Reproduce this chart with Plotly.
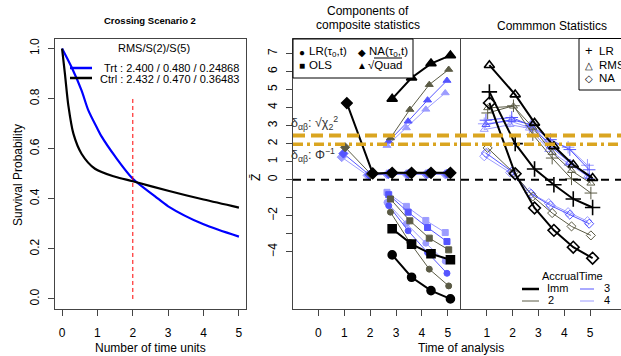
import plotly.graph_objects as go

W, H = 621, 356
FONT = "Liberation Sans, Arial, sans-serif"

# ---------------- data: left panel (survival curves) ----------------
trt_t = [0, 0.27, 0.55, 0.74, 1.0, 1.12, 1.5, 2.0, 2.63, 3.0, 4.0, 5.0]
trt_s = [1.0, 0.925, 0.833, 0.754, 0.68, 0.648, 0.569, 0.48, 0.41, 0.37, 0.298, 0.249]
ctrl_t = [0, 0.08, 0.18, 0.32, 0.55, 0.93, 1.5, 2.0, 3.0, 4.0, 5.0]
ctrl_s = [1.0, 0.90, 0.77, 0.66, 0.58, 0.52, 0.488, 0.47, 0.432, 0.397, 0.365]
legend_title = "RMS/S(2)/S(5)"
legend_trt = "Trt : 2.400 / 0.480 / 0.24868"
legend_ctrl = "Ctrl : 2.432 / 0.470 / 0.36483"

# ---------------- data: analysis times / groups ----------------
analysis_times = [1, 2, 2.75, 3.5, 4.25, 5]
groups = ["Imm", "2", "3", "4"]
group_offsets = [0.1, 0.033, -0.033, -0.1]
group_colors = ["#000000", "#5b5b45", "#5555ff", "#9c9cff"]

# middle panel: components of composite statistics
na_tau = {   # NA(tau0,t) at all 6 times
    "Imm": [4.25, 0.35, 0.38, 0.38, 0.38, 0.38],
    "2":   [1.80, 0.30, 0.35, 0.35, 0.35, 0.35],
    "3":   [1.45, 0.27, 0.32, 0.32, 0.33, 0.33],
    "4":   [1.25, 0.24, 0.30, 0.30, 0.30, 0.30],
}
lr_tau = {   # LR(tau0,t) at last 4 times
    "Imm": [-4.17, -5.41, -6.15, -6.61],
    "2":   [-1.80, -3.48, -4.96, -5.89],
    "3":   [-1.44, -2.83, -4.04, -5.19],
    "4":   [-1.26, -2.44, -3.52, -4.52],
}
ols = {
    "Imm": [-2.72, -3.57, -4.11, -4.44],
    "2":   [-1.07, -2.28, -3.24, -3.89],
    "3":   [-0.83, -1.80, -2.65, -3.43],
    "4":   [-0.70, -1.48, -2.26, -2.93],
}
sqrt_quad = {
    "Imm": [4.48, 5.65, 6.44, 6.89],
    "2":   [2.31, 3.89, 5.27, 6.11],
    "3":   [2.13, 3.24, 4.41, 5.50],
    "4":   [1.89, 2.87, 3.90, 4.81],
}

# right panel: common statistics at all 6 times
lr_common = {
    "Imm": [4.87, 2.00, 0.59, -0.28, -1.07, -1.54],
    "2":   [3.70, 4.10, 2.50, 1.20, 0.05, -0.74],
    "3":   [3.30, 3.45, 3.00, 2.22, 1.67, 0.55],
    "4":   [3.10, 3.25, 2.90, 2.10, 1.80, 0.80],
}
rms_common = {
    "Imm": [6.35, 4.72, 3.15, 1.85, 0.83, 0.09],
    "2":   [3.98, 4.07, 2.90, 1.50, 0.50, -0.20],
    "3":   [3.05, 3.33, 3.05, 1.85, 0.95, 0.15],
    "4":   [2.78, 3.05, 2.85, 1.66, 0.90, 0.20],
}
na_common = {
    "Imm": [4.26, 0.33, -1.57, -2.81, -3.74, -4.35],
    "2":   [1.76, 0.40, -0.93, -1.85, -2.59, -3.09],
    "3":   [1.48, 0.45, -0.78, -1.43, -1.94, -2.44],
    "4":   [1.30, 0.40, -0.70, -1.30, -1.80, -2.30],
}

crit_chi = 2.448   # sqrt(chi2_2 quantile)
crit_norm = 1.96   # Phi^-1

# ---------------- figure ----------------
fig = go.Figure()

fig.add_trace(go.Scatter(x=trt_t, y=trt_s, mode="lines", line=dict(color="#0000ff", width=2.2, shape="spline", smoothing=0.8),
                         xaxis="x", yaxis="y", showlegend=False))
fig.add_trace(go.Scatter(x=ctrl_t, y=ctrl_s, mode="lines", line=dict(color="#000000", width=2.2, shape="spline", smoothing=0.8),
                         xaxis="x", yaxis="y", showlegend=False))


def series(xs, ys, color, symbol, size, lw, ax, ay):
    fig.add_trace(go.Scatter(
        x=xs, y=ys, mode="lines+markers",
        line=dict(color=color, width=lw),
        marker=dict(color=color, symbol=symbol, size=size,
                    line=dict(color=color, width=(1.6 if lw > 1.5 else 1.0))),
        xaxis=ax, yaxis=ay, showlegend=False, cliponaxis=True))


# middle panel
for g in groups[::-1]:
    gi = groups.index(g)
    col = group_colors[gi]
    off = group_offsets[gi]
    big = g == "Imm"
    lw = 2 if big else 1
    xs_all = [t + off for t in analysis_times]
    xs_late = xs_all[2:]
    series(xs_all, na_tau[g], col, "diamond", 8 if big else 7, lw, "x2", "y2")
    series(xs_late, lr_tau[g], col, "circle", 8 if big else 6, lw, "x2", "y2")
    series(xs_late, ols[g], col, "square", 8 if big else 6, lw, "x2", "y2")
    series(xs_late, sqrt_quad[g], col, "triangle-up", 9 if big else 7, lw, "x2", "y2")

# right panel
for g in groups[::-1]:
    gi = groups.index(g)
    col = group_colors[gi]
    off = group_offsets[gi]
    big = g == "Imm"
    lw = 2 if big else 1
    xs_all = [t + off for t in analysis_times]
    series(xs_all, na_common[g], col, "diamond-open", 9 if big else 7, lw, "x3", "y3")
    series(xs_all, rms_common[g], col, "triangle-up-open", 9 if big else 7, lw, "x3", "y3")
    series(xs_all, lr_common[g], col, "cross-thin-open", 11 if big else 9, lw, "x3", "y3")


def px(x):
    return x / W


def py(y):
    return 1 - y / H


tickfont = dict(family=FONT, size=12, color="#000")
boxcol = "#444"
ydom = [py(309), py(38.5)]

fig.update_layout(
    width=W, height=H, margin=dict(l=0, r=0, t=0, b=0),
    paper_bgcolor="white", plot_bgcolor="white",
    font=dict(family=FONT, color="#000"),
    xaxis=dict(domain=[px(55), px(246)], range=[-0.2, 5.2], tickvals=[0, 1, 2, 3, 4, 5],
               ticks="outside", ticklen=6, tickcolor=boxcol, showgrid=False, zeroline=False,
               showline=True, mirror=True, linecolor=boxcol, linewidth=1.2,
               tickfont=tickfont, ticklabelstandoff=6),
    yaxis=dict(domain=ydom, range=[-0.04, 1.04], tickvals=[0, 0.2, 0.4, 0.6, 0.8, 1.0],
               ticktext=["0.0", "0.2", "0.4", "0.6", "0.8", "1.0"], tickangle=-90,
               ticks="outside", ticklen=6, tickcolor=boxcol, showgrid=False, zeroline=False,
               showline=True, mirror=True, linecolor=boxcol, linewidth=1.2,
               tickfont=tickfont, ticklabelstandoff=4),
    xaxis2=dict(domain=[px(293), px(460)], range=[-0.98, 5.47], tickvals=[0, 1, 2, 3, 4, 5],
                ticks="outside", ticklen=6, tickcolor=boxcol, showgrid=False, zeroline=False,
                showline=True, mirror=True, linecolor=boxcol, linewidth=1.2,
                tickfont=tickfont, ticklabelstandoff=6, anchor="y2"),
    yaxis2=dict(domain=ydom, range=[-7.17, 7.83], tickvals=[-4, -2, 0, 1, 2, 3, 4, 5, 6, 7],
                tickangle=-90,
                ticks="outside", ticklen=6, tickcolor=boxcol, showgrid=False, zeroline=False,
                showline=True, mirror=True, linecolor=boxcol, linewidth=1.2,
                minor=dict(tickvals=[-3, -1], ticks="outside", ticklen=6, tickcolor=boxcol, showgrid=False),
                tickfont=tickfont, ticklabelstandoff=4, anchor="x2"),
    xaxis3=dict(domain=[px(461), 1.0], range=[0.0, 6.2], tickvals=[1, 2, 3, 4, 5],
                ticks="outside", ticklen=6, tickcolor=boxcol, showgrid=False, zeroline=False,
                showline=True, mirror=True, linecolor=boxcol, linewidth=1.2,
                tickfont=tickfont, ticklabelstandoff=6, anchor="y3"),
    yaxis3=dict(domain=ydom, matches="y2", showticklabels=False, ticks="", showgrid=False,
                zeroline=False, showline=False, anchor="x3"),
)

shapes = []
# red dashed vertical at t=2 in left panel
shapes.append(dict(type="line", xref="x", yref="y", x0=2, x1=2, y0=0, y1=0.8,
                   line=dict(color="#ff0000", width=1, dash="4px,3px")))
# left legend lines
shapes.append(dict(type="line", xref="paper", yref="paper", x0=px(70), x1=px(92), y0=py(68), y1=py(68),
                   line=dict(color="#0000ff", width=2.5)))
shapes.append(dict(type="line", xref="paper", yref="paper", x0=px(70), x1=px(92), y0=py(78), y1=py(78),
                   line=dict(color="#000000", width=2.5)))
# horizontal reference lines across middle + right panels
shapes.append(dict(type="line", xref="paper", yref="y2", x0=px(293), x1=1.0, y0=crit_chi, y1=crit_chi,
                   line=dict(color="#DAA520", width=4, dash="12px,6px")))
shapes.append(dict(type="line", xref="paper", yref="y2", x0=px(293), x1=1.0, y0=crit_norm, y1=crit_norm,
                   line=dict(color="#DAA520", width=3.5, dash="10px,4px,3px,4px")))
shapes.append(dict(type="line", xref="paper", yref="y2", x0=px(293), x1=1.0, y0=0, y1=0,
                   line=dict(color="#000000", width=2, dash="8px,6px")))
# middle legend box
shapes.append(dict(type="rect", xref="paper", yref="paper", x0=px(293), x1=px(413), y0=py(78), y1=py(39),
                   line=dict(color="#000", width=1), fillcolor="white", layer="above"))
# overline for sqrt(Quad)
shapes.append(dict(type="line", xref="paper", yref="paper", x0=px(374), x1=px(402), y0=py(58), y1=py(58),
                   line=dict(color="#000", width=1)))
# right legend box
shapes.append(dict(type="rect", xref="paper", yref="paper", x0=px(579), x1=px(660), y0=py(90), y1=py(38.5),
                   line=dict(color="#000", width=1), fillcolor="white"))
# accrual legend lines
shapes.append(dict(type="line", xref="paper", yref="paper", x0=px(522), x1=px(539), y0=py(289), y1=py(289),
                   line=dict(color=group_colors[0], width=2.5)))
shapes.append(dict(type="line", xref="paper", yref="paper", x0=px(522), x1=px(539), y0=py(301), y1=py(301),
                   line=dict(color=group_colors[1], width=1)))
shapes.append(dict(type="line", xref="paper", yref="paper", x0=px(580), x1=px(594), y0=py(289), y1=py(289),
                   line=dict(color=group_colors[2], width=1)))
shapes.append(dict(type="line", xref="paper", yref="paper", x0=px(580), x1=px(594), y0=py(301), y1=py(301),
                   line=dict(color=group_colors[3], width=1)))
fig.update_layout(shapes=shapes)

ann = []


def text(x, y, s, size=12, anchor="center", angle=0, color="#000"):
    ann.append(dict(x=px(x), y=py(y), xref="paper", yref="paper", text=s, showarrow=False,
                    xanchor=anchor, yanchor="middle", textangle=angle,
                    font=dict(family=FONT, size=size, color=color)))


text(150, 20, "<b>Crossing Scenario 2</b>", 9.5)
text(18, 175, "Survival Probability", 12, angle=-90)
text(150, 348, "Number of time units", 12)
text(154, 48, legend_title, 11)
text(241, 68, legend_trt, 11, anchor="right")
text(241, 78.5, legend_ctrl, 11, anchor="right")

text(368, 11, "Components of", 12)
text(368, 25, "composite statistics", 12)
text(552, 26, "Commmon Statistics", 12)
text(461, 348, "Time of analysis", 12)
text(256, 178, "Z\u0304", 12, angle=-90)

text(289, 123, "δ<sub>αβ</sub>: √χ<sub>2</sub><sup>2</sup>", 12.5, anchor="left", color="#333")
text(289, 155, "δ<sub>αβ</sub>: Φ<sup>−1</sup>", 12.5, anchor="left", color="#333")

# middle legend
text(302, 52, "●", 10)
text(307, 52, "LR(τ<sub>0</sub>,t)", 11.5, anchor="left")
text(362, 52, "◆", 10)
text(367, 52, "NA(τ<sub>0</sub>,t)", 11.5, anchor="left")
text(302, 65, "■", 10)
text(307, 65, "OLS", 11.5, anchor="left")
text(362, 65, "▲", 10)
text(366, 65, "√Quad", 11.5, anchor="left")

# right legend
text(589, 51, "+", 13)
text(597, 51, "LR", 11.5, anchor="left")
text(589, 65, "△", 10)
text(597, 65, "RMS", 11.5, anchor="left")
text(589, 78, "◇", 10)
text(597, 78, "NA", 11.5, anchor="left")

# accrual legend
text(572, 276, "AccrualTime", 11)
text(545, 288, "Imm", 11, anchor="left")
text(546, 300, "2", 11, anchor="left")
text(602, 288, "3", 11, anchor="left")
text(602, 300, "4", 11, anchor="left")

fig.update_layout(annotations=ann)
fig.write_html("out.html", config={"displayModeBar": False},
               post_script="document.body.style.margin='0';document.body.style.overflow='hidden';")
